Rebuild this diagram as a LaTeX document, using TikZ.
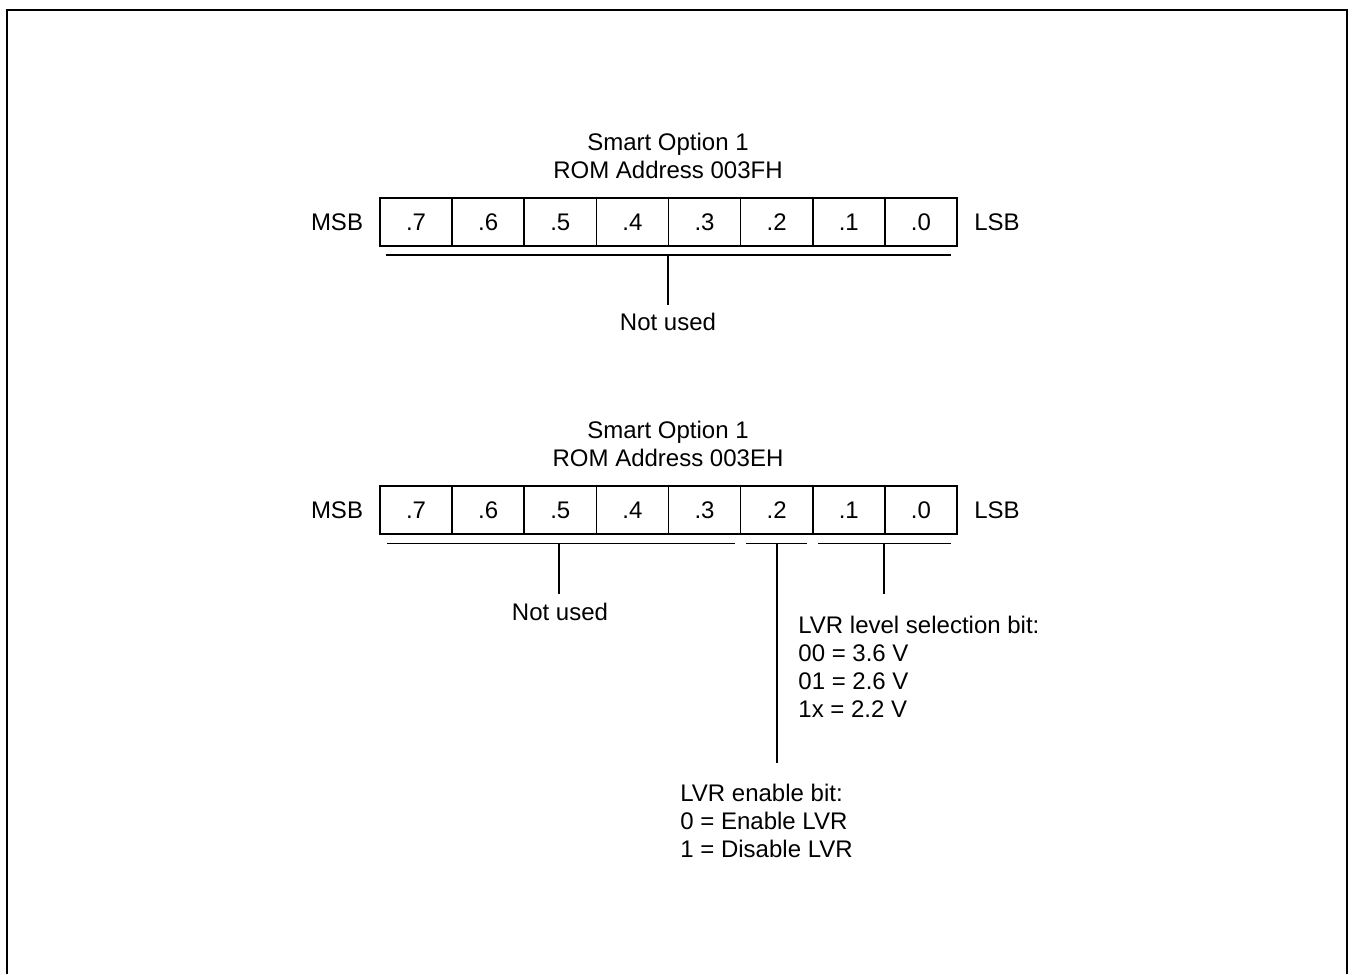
\documentclass[tikz,border=0pt]{standalone}
\usepackage{fontspec}
\setmainfont{Liberation Sans}
\begin{document}
\begin{tikzpicture}[x=0.5pt,y=-0.5pt,
  cell/.style={draw,line width=0.8pt,minimum width=36.06pt,minimum height=24pt,inner sep=0pt,font=\fontsize{12}{14}\selectfont},
  lbl/.style={font=\fontsize{12}{14}\selectfont,inner sep=0pt,align=center},
  txt/.style={font=\fontsize{12}{14}\selectfont,inner sep=0pt,align=left,anchor=west},
  ln/.style={line width=0.8pt},
  frame/.style={line width=1.1pt}]
\useasboundingbox (0,0) rectangle (1352,974);
% outer frame (open at the bottom, as in the reference)
\coordinate (f1) at (7,974);
\coordinate (f2) at (7,10);
\coordinate (f3) at (1347,10);
\coordinate (f4) at (1347,974);
\draw[frame] (f1) -- (f2) -- (f3) -- (f4);

% ---------- Register 1 ----------
\node[lbl] (t1) at (668,156) {Smart Option 1\\ROM Address 003FH};
\foreach \i [evaluate=\i as \b using int(7-\i)] in {0,...,7} {
  \node[cell] (a\b) at ({416.06+\i*72.125},222) {.\b};
}
\node[lbl] (msb1) at (337,222) {MSB};
\node[lbl] (lsb1) at (997,222) {LSB};
\coordinate (b1l) at (386,255);
\coordinate (b1r) at (951,255);
\coordinate (b1m) at (668,255);
\coordinate (v1e) at (668,305);
\draw[ln] (b1l) -- (b1r);
\draw[ln] (b1m) -- (v1e);
\node[lbl] (nu1) at (668,322) {Not used};

% ---------- Register 2 ----------
\node[lbl] (t2) at (668,444) {Smart Option 1\\ROM Address 003EH};
\foreach \i [evaluate=\i as \b using int(7-\i)] in {0,...,7} {
  \node[cell] (c\b) at ({416.06+\i*72.125},510) {.\b};
}
\node[lbl] (msb2) at (337,510) {MSB};
\node[lbl] (lsb2) at (997,510) {LSB};

\coordinate (bal) at (387,543.5);
\coordinate (bar) at (735,543.5);
\coordinate (bam) at (559,543.5);
\coordinate (vae) at (559,594);
\coordinate (bbl) at (746,543.5);
\coordinate (bbr) at (807,543.5);
\coordinate (bbm) at (777,543.5);
\coordinate (vbe) at (777,763);
\coordinate (bcl) at (818,543.5);
\coordinate (bcr) at (951,543.5);
\coordinate (bcm) at (884,543.5);
\coordinate (vce) at (884,594);
\draw[ln] (bal) -- (bar);
\draw[ln] (bbl) -- (bbr);
\draw[ln] (bcl) -- (bcr);
\draw[ln] (bam) -- (vae);
\draw[ln] (bbm) -- (vbe);
\draw[ln] (bcm) -- (vce);

\node[lbl] (nu2) at (560,612) {Not used};
\node[txt] (lvl) at (798,667) {LVR level selection bit:\\00 = 3.6 V\\01 = 2.6 V\\1x = 2.2 V};
\node[txt] (lve) at (680,821) {LVR enable bit:\\0 = Enable LVR\\1 = Disable LVR};
\end{tikzpicture}
\end{document}
